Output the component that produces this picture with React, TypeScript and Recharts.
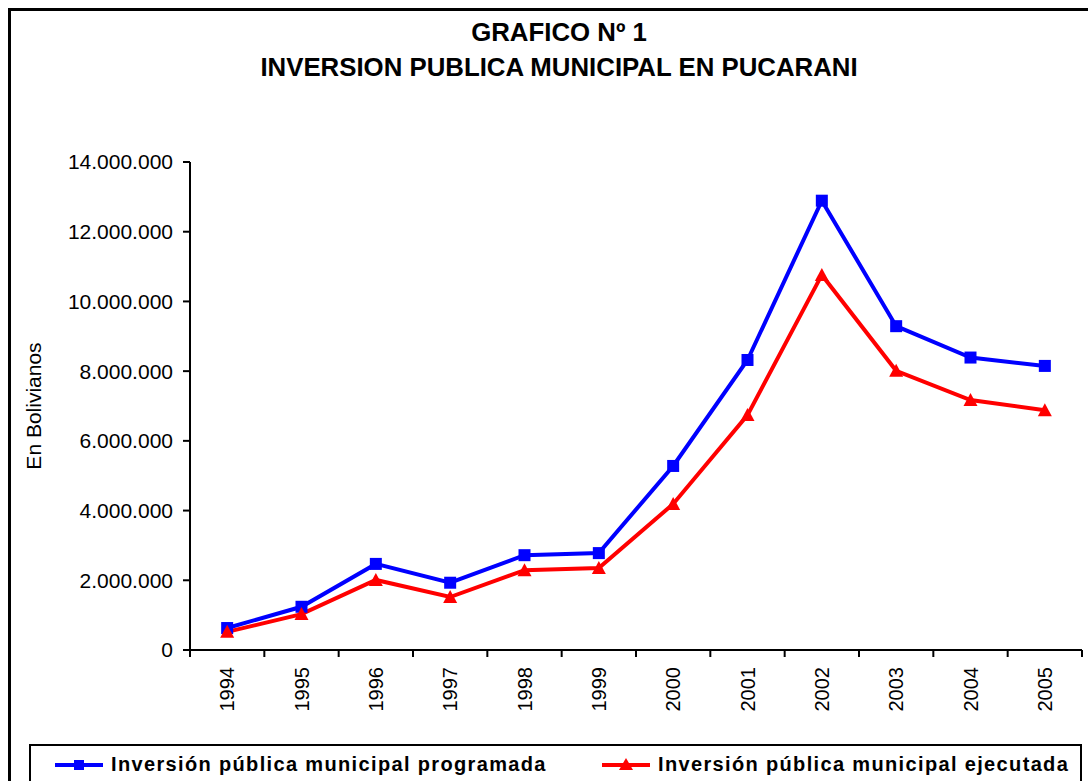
import { CartesianGrid, Legend, Line, LineChart, XAxis, YAxis } from "recharts";

const years = ["1994", "1995", "1996", "1997", "1998", "1999", "2000", "2001", "2002", "2003", "2004", "2005"];
const programada = [630000, 1240000, 2470000, 1930000, 2720000, 2780000, 5280000, 8320000, 12890000, 9290000, 8390000, 8150000];
const ejecutada = [520000, 1030000, 2010000, 1520000, 2290000, 2350000, 4190000, 6740000, 10760000, 8010000, 7170000, 6880000];
const yTicks = [0, 2000000, 4000000, 6000000, 8000000, 10000000, 12000000, 14000000];

const titleLines = ["GRAFICO Nº 1", "INVERSION PUBLICA MUNICIPAL EN PUCARANI"];
const yLabel = "En Bolivianos";
const nameProgramada = "Inversión pública municipal programada";
const nameEjecutada = "Inversión pública municipal ejecutada";
const seriesOrder = ["programada", "ejecutada"];

const BLUE = "#0000FF";
const RED = "#FF0000";
const FONT = "'Liberation Sans', Arial, sans-serif";

const W = 1088;
const H = 781;
const PLOT_W = 892;
const STEP = PLOT_W / years.length;

const data = years.map((year, i) => ({
  year,
  programada: programada[i],
  ejecutada: ejecutada[i],
}));

const fmt = (v: number) => String(v).replace(/\B(?=(\d{3})+(?!\d))/g, ".");

function XTick(props: any) {
  const { x, y, payload, index } = props;
  const ty = y + 17;
  return (
    <g>
      <line x1={x - STEP / 2} y1={y} x2={x - STEP / 2} y2={y + 7} stroke="#000" strokeWidth={2} />
      {index === years.length - 1 && (
        <line x1={x + STEP / 2} y1={y} x2={x + STEP / 2} y2={y + 7} stroke="#000" strokeWidth={2} />
      )}
      <text
        x={x}
        y={ty}
        transform={`rotate(-90 ${x} ${ty})`}
        textAnchor="end"
        dominantBaseline="central"
        fontSize={20}
        fontFamily={FONT}
        fill="#000"
      >
        {payload.value}
      </text>
    </g>
  );
}

function renderYLabel(props: any) {
  const vb = props.viewBox || {};
  const cy = vb.y + vb.height / 2;
  return (
    <text
      x={33}
      y={cy}
      transform={`rotate(-90 33 ${cy})`}
      textAnchor="middle"
      dominantBaseline="central"
      fontSize={21}
      fontFamily={FONT}
      fill="#000"
    >
      {yLabel}
    </text>
  );
}

function SquareDot(props: any) {
  const { cx, cy, index } = props;
  return <rect key={`sq-${index}`} x={cx - 6} y={cy - 6} width={12} height={12} fill={BLUE} />;
}

function TriangleDot(props: any) {
  const { cx, cy, index } = props;
  return (
    <polygon
      key={`tr-${index}`}
      points={`${cx},${cy - 7} ${cx - 7},${cy + 6} ${cx + 7},${cy + 6}`}
      fill={RED}
    />
  );
}

function LegendIcon({ color, shape }: { color: string; shape: string }) {
  return (
    <svg width={48} height={16} style={{ display: "block" }}>
      <line x1={0} y1={8} x2={48} y2={8} stroke={color} strokeWidth={4} />
      {shape === "square" ? (
        <rect x={19} y={3} width={10} height={10} fill={color} />
      ) : (
        <polygon points="24,1 17,13 31,13" fill={color} />
      )}
    </svg>
  );
}

function LegendBox(props: any) {
  const items = [...(props.payload || [])].sort(
    (a: any, b: any) => seriesOrder.indexOf(a.dataKey) - seriesOrder.indexOf(b.dataKey)
  );
  const lefts = [24, 571];
  return (
    <div
      style={{
        position: "relative",
        width: 1053,
        height: 60,
        border: "2px solid #000",
        boxSizing: "border-box",
        background: "#fff",
      }}
    >
      {items.map((item: any, i: number) => (
        <div
          key={item.value}
          style={{
            position: "absolute",
            left: lefts[i],
            top: 7,
            display: "flex",
            alignItems: "center",
            gap: 8,
          }}
        >
          <LegendIcon color={item.color} shape={item.dataKey === "programada" ? "square" : "triangle"} />
          <span
            style={{
              fontFamily: FONT,
              fontWeight: "bold",
              fontSize: 20,
              letterSpacing: 1.35,
              color: "#000",
              whiteSpace: "nowrap",
            }}
          >
            {item.value}
          </span>
        </div>
      ))}
    </div>
  );
}

export default function App() {
  return (
    <div
      style={{
        position: "fixed",
        left: 0,
        top: 0,
        width: W,
        height: H,
        overflow: "hidden",
        background: "#fff",
      }}
    >
      <div
        style={{
          position: "absolute",
          left: 8,
          top: 8,
          width: 1200,
          height: 900,
          border: "3px solid #000",
        }}
      />
      <div
        style={{
          position: "absolute",
          left: 0,
          top: 15,
          width: 1118,
          textAlign: "center",
          fontFamily: FONT,
          fontWeight: "bold",
          fontSize: 25.8,
          lineHeight: "35px",
          color: "#000",
        }}
      >
        {titleLines.map((t) => (
          <div key={t}>{t}</div>
        ))}
      </div>
      <div style={{ position: "absolute", left: 0, top: 0 }}>
        <LineChart width={W} height={H} data={data} margin={{ top: 162, right: 6, left: 90, bottom: 51 }}>
          <CartesianGrid horizontal={false} vertical={false} />
          <XAxis
            dataKey="year"
            height={80}
            padding={{ left: STEP / 2, right: STEP / 2 }}
            tickLine={false}
            tickSize={0}
            tickMargin={0}
            axisLine={{ stroke: "#000", strokeWidth: 2 }}
            tick={<XTick />}
            interval={0}
          />
          <YAxis
            width={100}
            domain={[0, 14000000]}
            ticks={yTicks}
            tickFormatter={fmt}
            tickSize={7}
            tickMargin={10}
            axisLine={{ stroke: "#000", strokeWidth: 2 }}
            tickLine={{ stroke: "#000", strokeWidth: 2 }}
            tick={{ fill: "#000", fontSize: 21, fontFamily: FONT }}
            label={renderYLabel}
          />
          <Legend
            layout="horizontal"
            verticalAlign="middle"
            content={<LegendBox />}
            wrapperStyle={{ left: 29, top: 744, width: 1053 }}
          />
          <Line
            type="linear"
            dataKey="programada"
            name={nameProgramada}
            stroke={BLUE}
            strokeWidth={4}
            dot={<SquareDot />}
            activeDot={false}
            isAnimationActive={false}
          />
          <Line
            type="linear"
            dataKey="ejecutada"
            name={nameEjecutada}
            stroke={RED}
            strokeWidth={4}
            dot={<TriangleDot />}
            activeDot={false}
            isAnimationActive={false}
          />
        </LineChart>
      </div>
    </div>
  );
}
